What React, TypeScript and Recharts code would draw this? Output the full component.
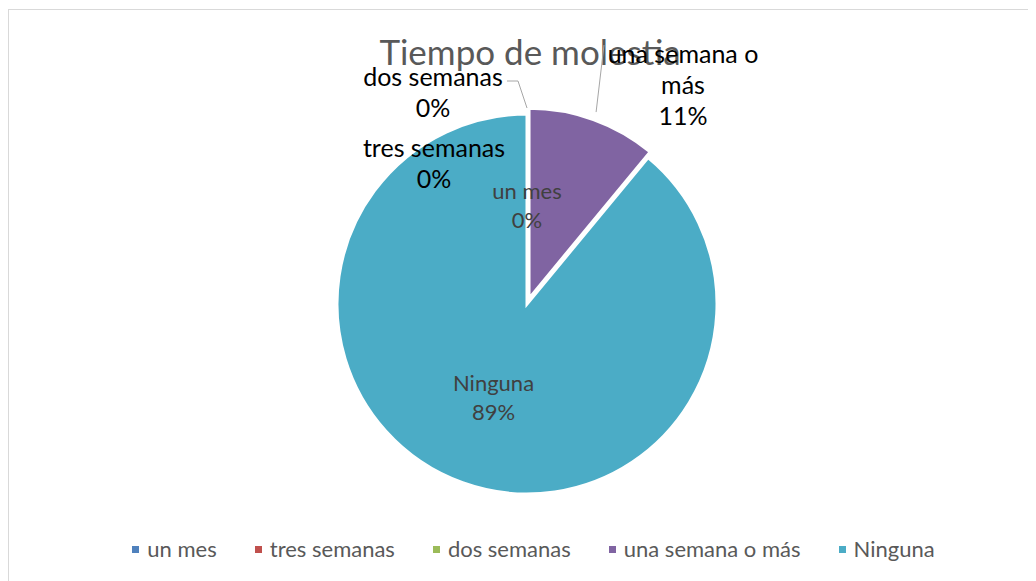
import React from 'react';
import { PieChart, Pie, Cell, Legend } from 'recharts';

const CATEGORIES = ['un mes', 'tres semanas', 'dos semanas', 'una semana o más', 'Ninguna'];
const VALUES = [0, 0, 0, 11, 89];
const COLORS = ['#4F81BD', '#C0504D', '#9BBB59', '#8064A2', '#4BACC6'];
const TITLE = 'Tiempo de molestia';

const data = CATEGORIES.map((name, i) => ({ name, value: VALUES[i] }));

const W = 1028;
const H = 573;
const CX = 519;
const CY = 296;
const R = 190;
const RAD = Math.PI / 180;
const FONT = 'Lato, "Open Sans", sans-serif';

// the slice that is pulled out of the pie
const EXPLODED = 3;
const EXPLODE = 6;
const total = VALUES.reduce((a, b) => a + b, 0);
const before = VALUES.slice(0, EXPLODED).reduce((a, b) => a + b, 0);
const explodedMid = 90 - 360 * (before + VALUES[EXPLODED] / 2) / total;
const EX = Math.cos(explodedMid * RAD) * EXPLODE;
const EY = -Math.sin(explodedMid * RAD) * EXPLODE;

// label placement: null = inside the slice, otherwise offset from pie centre
const LABEL_SPOT: ([number, number] | null)[] = [null, [-93, -142], [-94, -213], [156, -220], null];
const LABEL_LINES: (string[] | null)[] = [null, null, null, ['una semana o', 'más'], null];

const renderLabel = (props: any) => {
  const { cx, cy, midAngle, outerRadius, percent, index, name } = props;
  const pct = `${Math.round(percent * 100)}%`;
  const spot = LABEL_SPOT[index];
  const lines = [...(LABEL_LINES[index] || [name]), pct];
  let lh = 31;
  let size = 25;
  let x: number;
  let y: number;
  let fill = '#000000';
  if (!spot) {
    x = cx + outerRadius * 0.52 * Math.cos(-midAngle * RAD);
    y = cy + outerRadius * 0.52 * Math.sin(-midAngle * RAD);
    fill = '#404040';
    size = 22;
    lh = 29;
  } else {
    x = cx + spot[0];
    y = cy + spot[1];
  }
  let leader: string | null = null;
  if (index === 2) {
    leader = `${cx - 20},${cy - 223} ${cx - 9},${cy - 223} ${cx},${cy - outerRadius - 6}`;
  } else if (index === 3) {
    const ex = cx + EX + (outerRadius + 8) * Math.cos(-midAngle * RAD);
    const ey = cy + EY + (outerRadius + 8) * Math.sin(-midAngle * RAD);
    leader = `${cx + 77},${cy - 259} ${ex},${ey}`;
  }
  return (
    <g key={`lbl-${index}`}>
      {leader && <polyline points={leader} fill="none" stroke="#a6a6a6" strokeWidth={1} />}
      <text x={x} y={y} fill={fill} fontSize={size} fontFamily={FONT} textAnchor="middle">
        {lines.map((t, i) => (
          <tspan key={i} x={x} y={y + (i - (lines.length - 1) / 2) * lh} dominantBaseline="central">
            {t}
          </tspan>
        ))}
      </text>
    </g>
  );
};

const renderLegend = () => (
  <div
    style={{
      display: 'flex',
      justifyContent: 'center',
      alignItems: 'center',
      paddingLeft: 23,
      fontFamily: FONT,
      fontSize: 22,
      lineHeight: '24px',
      color: '#595959',
    }}
  >
    {CATEGORIES.map((c, i) => (
      <div key={c} style={{ display: 'flex', alignItems: 'center', marginRight: i < CATEGORIES.length - 1 ? 38 : 0 }}>
        <span style={{ width: 7, height: 7, background: COLORS[i], marginRight: 8, display: 'inline-block' }} />
        <span>{c}</span>
      </div>
    ))}
  </div>
);

export default function App() {
  return (
    <div style={{ position: 'relative', width: W, height: H }}>
      <div
        style={{
          position: 'absolute',
          left: 0,
          top: 1,
          width: W + 20,
          height: H + 20,
          borderLeft: '1px solid #d9d9d9',
          borderTop: '1px solid #d9d9d9',
        }}
      />
      <div
        style={{
          position: 'absolute',
          left: 0,
          top: 26,
          width: 1044,
          textAlign: 'center',
          fontFamily: FONT,
          fontSize: 35,
          lineHeight: 1,
          color: '#595959',
        }}
      >
        {TITLE}
      </div>
      <div style={{ position: 'absolute', left: 0, top: 0 }}>
        <PieChart width={W} height={H} margin={{ top: 0, right: 0, bottom: 0, left: 0 }}>
          <Pie
            data={data}
            dataKey="value"
            nameKey="name"
            cx={CX}
            cy={CY}
            outerRadius={R}
            startAngle={90}
            endAngle={-270}
            label={renderLabel}
            labelLine={false}
            isAnimationActive={false}
          >
            {data.map((_, i) => (
              <Cell
                key={`a-${i}`}
                fill={i === EXPLODED ? 'transparent' : COLORS[i]}
                stroke={i === EXPLODED ? 'none' : '#ffffff'}
                strokeWidth={3}
              />
            ))}
          </Pie>
          <Pie
            data={data}
            dataKey="value"
            nameKey="name"
            cx={CX + EX}
            cy={CY + EY}
            outerRadius={R}
            startAngle={90}
            endAngle={-270}
            legendType="none"
            isAnimationActive={false}
          >
            {data.map((_, i) => (
              <Cell
                key={`b-${i}`}
                fill={i === EXPLODED ? COLORS[i] : 'transparent'}
                stroke={i === EXPLODED ? '#ffffff' : 'none'}
                strokeWidth={3}
              />
            ))}
          </Pie>
          <Legend
            content={renderLegend}
            wrapperStyle={{ position: 'absolute', left: 0, top: 529, width: W, height: 24 }}
          />
        </PieChart>
      </div>
    </div>
  );
}
